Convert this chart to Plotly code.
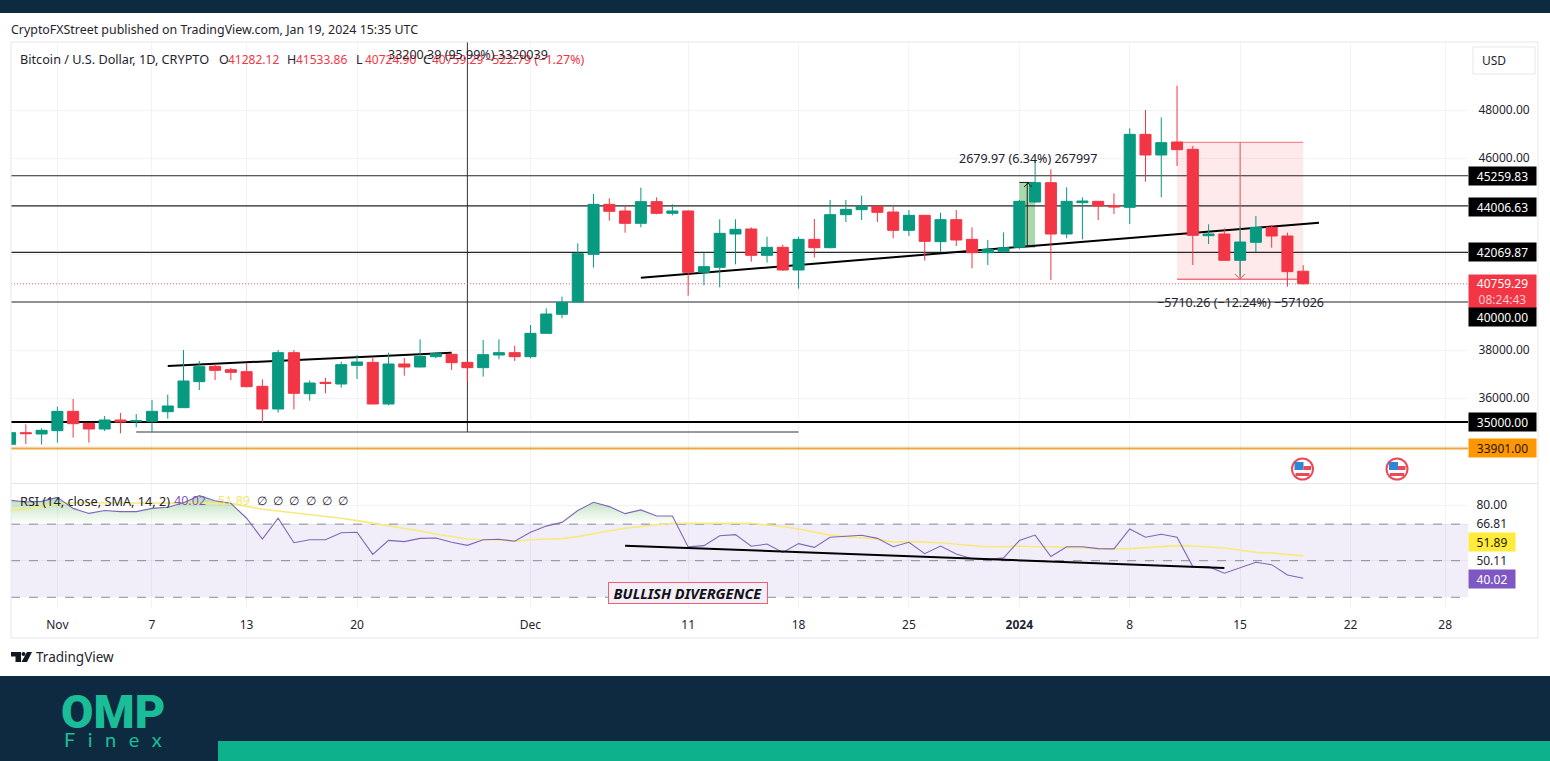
import pandas as pd
import plotly.graph_objects as go

# ---------- data ----------
dates = pd.date_range("2023-10-29", "2024-01-19", freq="D")
opens = [34070,34555,34500,34639,35444,34944,34708,35083,35028,35028,35430,35597,36680,37320,37180,37097,36486,35542,37889,36180,36653,36583,37361,37486,35750,37417,37292,37722,37820,37486,37264,37792,37889,
         37722,38694,39486,40000,41986,44069,43792,43278,44181,43694,43792,41236,41444,42833,43042,41944,42278,41333,42611,42264,43639,43847,43986,43750,42986,43611,42514,43431,42611,42056,42111,
         42278,44167,44972,42833,44139,44194,44014,43944,46986,46125,46667,46361,42764,42833,41736,42486,43111,42750,41282.12]
highs = [34600,34903,34736,35639,35958,34950,35250,35375,35333,35917,36139,38000,37542,37389,37250,37444,36778,38000,38000,36736,36847,37514,37792,37722,37889,37667,38444,37889,37889,37486,38417,38444,38181,
         39042,39736,40222,42444,44500,44319,44000,44764,44361,44069,43833,42056,43444,43444,43111,42722,42389,42722,43458,44250,44250,44431,44000,43972,43833,43625,43722,43833,43111,42583,42903,
         44250,45889,45528,44778,44361,44208,44528,47236,48000,47694,49014,46500,43236,43069,43139,43583,43208,42889,41533.86]
lows = [34000,34083,34056,34139,34347,34139,34625,34528,34778,34583,35139,35597,36333,36750,36750,36444,34986,35389,35528,35889,36194,36430,36792,35750,35694,36930,37278,37653,37167,36680,36889,37611,37542,
        37653,38680,39319,39986,41431,43389,42889,43111,43653,43611,40264,40694,40611,41569,41681,41639,41292,40556,41847,42236,43333,43417,43333,42653,42750,41722,42097,42333,41403,41542,42056,
        42194,44139,40917,42653,42611,43417,43667,43250,45014,44361,45667,41542,42417,41722,41055,42083,42264,40639,40724.90]
closes = [34555,34515,34653,35444,34930,34708,35083,35000,35056,35444,35667,36708,37306,37153,37069,36472,35542,37889,36194,36625,36611,37389,37500,35750,37417,37292,37736,37847,37472,37264,37806,37889,37722,
          38694,39500,39986,42014,44069,43778,43278,44181,43694,43792,41236,41472,42861,43028,41944,42278,41333,42611,42264,43639,43861,43986,43736,42986,43611,42528,43431,42583,42056,42194,42264,
          44194,44972,42833,44194,44208,44000,43958,46986,46125,46639,46347,42778,42833,41736,42500,43111,42750,41264,40759.29]
rsi_vals = [77.7,76.9,77.2,79.0,74.0,71.7,73.0,72.5,72.5,74.0,74.5,76.6,79.8,77.5,76.3,69.5,60.0,69.5,58.3,59.7,59.7,62.9,63.1,53.0,59.4,58.8,60.3,60.5,58.5,57.1,59.7,59.9,59.0,
            63.1,65.9,67.6,73.0,76.8,74.8,71.6,73.3,70.5,70.5,56.4,57.0,61.5,62.0,56.7,57.7,53.9,57.9,56.2,60.8,61.4,61.7,60.3,56.5,58.5,53.3,56.8,53.2,51.0,50.6,51.4,
            59.3,61.8,52.0,56.5,56.5,55.6,55.5,64.6,60.8,62.2,60.8,47.4,47.4,44.4,46.9,49.4,48.3,43.6,42.1]
sma_vals = [72.8,73.7,74.8,76.0,76.6,76.6,76.6,76.6,76.6,76.5,76.3,76.3,76.3,76.3,76.2,74.8,73.6,72.8,72.0,71.1,70.2,69.5,68.4,67.2,66.3,65.0,63.7,62.3,61.1,60.0,59.7,59.6,59.0,
            59.7,60.0,60.2,61.1,62.6,63.8,64.9,65.7,66.6,67.2,67.2,67.2,67.2,67.3,67.2,66.4,65.7,64.6,63.1,61.8,61.1,60.6,60.0,58.6,58.8,58.6,58.3,57.6,57.0,56.5,56.5,
            56.8,56.5,56.5,56.1,56.1,55.5,55.5,55.6,56.1,56.5,57.0,56.8,56.5,55.9,54.85,53.9,53.6,53.0,52.3]

levels = [45259.83, 44006.63, 42069.87, 40000.00]
level_strong = 35000.00
level_orange = 33901.00
last_price = 40759.29
rsi_band = [66.81, 50.11, 33.41]

price_ticks = [34000,36000,38000,40000,42000,44000,46000,48000]
price_tick_text = ["","36000.00","38000.00","","","","46000.00","48000.00"]
rsi_ticks = [75.5, 66.81, 50.11]
rsi_tick_text = ["80.00", "66.81", "50.11"]
time_ticks = ["2023-11-01","2023-11-07","2023-11-13","2023-11-20","2023-12-01","2023-12-11","2023-12-18","2023-12-25","2024-01-01","2024-01-08","2024-01-15","2024-01-22","2024-01-28"]
time_text = ["Nov","7","13","20","Dec","11","18","25","<b>2024</b>","8","15","22","28"]

trend_a = (["2023-11-08","2023-11-26"], [37333, 37889])
trend_b = (["2023-12-08","2024-01-20"], [41012, 43304])
trend_rsi = (["2023-12-07","2024-01-14"], [56.96, 46.78])
range_floor = (["2023-11-06","2023-12-18"], [34583, 34583])
range_marker_date = "2023-11-27"
down_box = (["2024-01-11","2024-01-19"], [46654, 40944], "2024-01-15")
up_box = (["2024-01-01","2024-01-02"], [42302, 44982], "2024-01-01 12:00")

# ---------- colours / helpers ----------
GREEN, RED = "#089981", "#f23645"
NAVY, TEAL = "#0e2a40", "#0db28d"
GRID, BORDER, TXT = "rgba(110,125,165,0.09)", "#e4e7ee", "#1f2430"
FONT = "Noto Sans"
W, H = 1550, 761
px = lambda x: x / W
py = lambda y: 1 - y / H

annotations, shapes = [], []

def txt(x, y, t, size=12, color=TXT, anchor="left", family=FONT, weight=None):
    f = dict(family=family, size=size, color=color)
    if weight:
        f["weight"] = weight
    annotations.append(dict(x=px(x - 2 if anchor == "left" else x), y=py(y), xref="paper", yref="paper", text=t, showarrow=False,
                            xanchor=anchor, yanchor="middle", font=f))

def box_label(x0, x1, yc, h, t, bg, color="white", size=12):
    annotations.append(dict(x=px(x0), y=py(yc), xref="paper", yref="paper", text=t, showarrow=False,
                            xanchor="left", yanchor="middle", width=x1 - x0, height=h, bgcolor=bg, borderpad=0, align="center",
                            font=dict(family=FONT, size=size, color=color)))

def rect_px(x0, y0, x1, y1, fill, line=None, w=1, layer="below"):
    shapes.append(dict(type="rect", xref="paper", yref="paper", x0=px(x0), x1=px(x1), y0=py(y0), y1=py(y1),
                       fillcolor=fill, line=dict(color=line or fill, width=w if line else 0), layer=layer))

def line_px(x0, y0, x1, y1, color, w=1, layer="above"):
    shapes.append(dict(type="line", xref="paper", yref="paper", x0=px(x0), x1=px(x1), y0=py(y0), y1=py(y1),
                       line=dict(color=color, width=w), layer=layer))

def path_px(points, fill=None, line=None, w=1, layer="above"):
    d = "M" + " L".join(f"{px(a):.5f},{py(b):.5f}" for a, b in points)
    if fill:
        d += " Z"
    shapes.append(dict(type="path", xref="paper", yref="paper", path=d, fillcolor=fill or "rgba(0,0,0,0)",
                       line=dict(color=line or "rgba(0,0,0,0)", width=w), layer=layer))

def hline(val, color, w=1, dash="solid", xr="x", yr="y"):
    shapes.append(dict(type="line", xref=xr, yref=yr, x0=X_RANGE[0], x1=X_RANGE[1], y0=val, y1=val,
                       line=dict(color=color, width=w, dash=dash), layer="below"))

def seg(xs, ys, color, w=1, yr="y", xr="x"):
    shapes.append(dict(type="line", xref=xr, yref=yr, x0=xs[0], x1=xs[1], y0=ys[0], y1=ys[1],
                       line=dict(color=color, width=w), layer="below"))

X_RANGE = ["2023-10-29 01:26", "2024-01-29 10:48"]
Y_RANGE = [32458.3, 50833.3]
RSI_RANGE = [28.51, 85.13]

# ---------- page chrome ----------
rect_px(0, 0, W, 13, NAVY)
rect_px(0, 676, W, H, NAVY)
rect_px(218, 741, W, H, TEAL)

# ---------- drawings under the candles ----------
shapes.append(dict(type="rect", xref="x", yref="y", x0=down_box[0][0], x1=down_box[0][1], y0=down_box[1][0], y1=down_box[1][1],
                   fillcolor="rgba(242,54,69,0.11)", line=dict(width=0), layer="below"))
shapes.append(dict(type="rect", xref="x", yref="y", x0=up_box[0][0], x1=up_box[0][1], y0=up_box[1][0], y1=up_box[1][1],
                   fillcolor="rgba(76,175,80,0.48)", line=dict(width=0), layer="below"))
for lv in levels:
    hline(lv, "#262626", 1.2)
hline(level_strong, "#000000", 2)
hline(level_orange, "#eda73a", 2)
hline(last_price, "rgba(242,54,69,0.8)", 1, "1px,2px")
seg(range_floor[0], range_floor[1], "#333333", 1)
shapes.append(dict(type="line", xref="x", yref="paper", x0=range_marker_date, x1=range_marker_date,
                   y0=py(432), y1=py(42), line=dict(color="#333333", width=1), layer="below"))
seg(trend_a[0], trend_a[1], "#000000", 2)
seg(trend_b[0], trend_b[1], "#000000", 2)
seg(down_box[0], [down_box[1][0]] * 2, "#f4707b", 1)
seg(down_box[0], [down_box[1][1]] * 2, "#f4707b", 1.5)
seg([down_box[2]] * 2, down_box[1], "#f2505c", 1)
seg([up_box[2]] * 2, up_box[1], "#1a1a1a", 1)
seg(up_box[0], [up_box[1][1]] * 2, "#1a1a1a", 1)
seg(up_box[0], [up_box[1][0]] * 2, "#1a1a1a", 1)

# RSI band
shapes.append(dict(type="rect", xref="x2", yref="y2", x0=X_RANGE[0], x1=X_RANGE[1], y0=rsi_band[2], y1=rsi_band[0],
                   fillcolor="rgba(126,87,194,0.1)", line=dict(width=0), layer="below"))
for b in rsi_band:
    hline(b, "#8a8d96", 1, "dash", xr="x2", yr="y2")

# arrows
path_px([(1235, 274), (1240, 279), (1245, 274)], line="#f2505c")
path_px([(1024, 187), (1028, 183), (1032, 187)], line="#1a1a1a")

# frame
path_px([(11, 42), (1538, 42), (1538, 638), (11, 638), (11, 42)], line=BORDER)
line_px(11, 483.5, 1538, 483.5, BORDER)
rect_px(1473, 47, 1535, 74, "white", line=BORDER, layer="above")

# ---------- traces ----------
traces = []
# overbought gradient: area between the 66.81 band and the RSI line where the line is above it
top = rsi_band[0]
fx, fy = [], []
for i, (d, v) in enumerate(zip(dates, rsi_vals)):
    if i:
        p = rsi_vals[i - 1]
        if (p - top) * (v - top) < 0:
            t = (top - p) / (v - p)
            fx.append(dates[i - 1] + (d - dates[i - 1]) * t)
            fy.append(top)
    fx.append(d)
    fy.append(max(v, top))
traces.append(go.Scatter(x=fx, y=[top] * len(fx), xaxis="x2", yaxis="y2", mode="lines", line=dict(width=0), hoverinfo="skip"))
traces.append(go.Scatter(x=fx, y=fy, xaxis="x2", yaxis="y2", mode="lines", line=dict(width=0), fill="tonexty", hoverinfo="skip",
                         fillgradient=dict(type="vertical", start=top, stop=max(rsi_vals),
                                           colorscale=[[0, "rgba(76,175,80,0)"], [1, "rgba(76,175,80,0.42)"]])))
traces.append(go.Scatter(x=dates, y=sma_vals, xaxis="x2", yaxis="y2", mode="lines", line=dict(color="#f7e97e", width=1.6), hoverinfo="skip"))
traces.append(go.Scatter(x=dates, y=rsi_vals, xaxis="x2", yaxis="y2", mode="lines", line=dict(color="#7e67b8", width=1.1), hoverinfo="skip"))
traces.append(go.Scatter(x=trend_rsi[0], y=trend_rsi[1], xaxis="x2", yaxis="y2", mode="lines", line=dict(color="#000000", width=2), hoverinfo="skip"))
traces.append(go.Candlestick(x=dates, open=opens, high=highs, low=lows, close=closes, xaxis="x", yaxis="y", whiskerwidth=0,
                             increasing=dict(line=dict(color=GREEN, width=1), fillcolor=GREEN),
                             decreasing=dict(line=dict(color=RED, width=1), fillcolor=RED)))

# ---------- texts ----------
txt(11, 30, "CryptoFXStreet published on TradingView.com, Jan 19, 2024 15:35 UTC", 12.4)
txt(20, 59, "Bitcoin / U.S. Dollar, 1D, CRYPTO", 12.7)
for x, lab, val in [(219, "O", "41282.12"), (287, "H", "41533.86"), (356, "L", "40724.90"), (423, "C", "40759.29")]:
    txt(x, 59, lab, 12.5)
    txt(x + 9, 59, val, 12, RED)
txt(485, 59, "−522.79 (−1.27%)", 12.5, RED)
txt(468, 55, "33200.39 (95.99%) 3320039", 12.5, anchor="center")
txt(1028, 158, "2679.97 (6.34%) 267997", 12.5, anchor="center")
txt(1240, 302, "−5710.26 (−12.24%) −571026", 12.5, anchor="center")
txt(20, 501, "RSI (14, close, SMA, 14, 2)", 12.7)
txt(174, 501, "40.02", 12.5, "#7e57c2")
txt(218, 501, "51.89", 12.5, "#f5e66b")
for x in [262, 278, 294, 311, 327, 343]:
    txt(x, 501, "∅", 12, anchor="center")

# price-scale labels
txt(1482, 60.5, "USD", 12)
for yc, lab in [(176, "45259.83"), (206.5, "44006.63"), (252.5, "42069.87")]:
    box_label(1468, 1535, yc, 18, lab, "#000000")
box_label(1468, 1535, 291, 33, "40759.29<br><span style='color:#ffc9ce'>08:24:43</span>", RED)
box_label(1468, 1535, 317, 18, "40000.00", "#000000")
box_label(1468, 1535, 422, 18, "35000.00", "#000000")
box_label(1468, 1535, 448, 18, "33901.00", "#ff9800", "#1f1300")
box_label(1468, 1514, 542, 18, "51.89", "#ffeb3b", "#1f1a00")
box_label(1468, 1514, 578.5, 18, "40.02", "#7e57c2")

annotations.append(dict(x=px(688), y=py(592.5), xref="paper", yref="paper", text="<b><i>BULLISH DIVERGENCE</i></b>", showarrow=False,
                        xanchor="center", yanchor="middle",
                        width=158, height=20, bgcolor="#f2eefa", bordercolor="#f2606e", borderwidth=1, borderpad=0,
                        font=dict(family=FONT, size=14.5, color="#111111")))

# flags
for cx in [1302.5, 1397]:
    cy = 469
    shapes.append(dict(type="circle", xref="paper", yref="paper", x0=px(cx - 10.5), x1=px(cx + 10.5), y0=py(cy - 10.5), y1=py(cy + 10.5),
                       fillcolor="white", line=dict(color="#ea4a57", width=2), layer="above"))
    rect_px(cx - 8, cy - 7, cx + 1, cy + 1, "#2f86d8", layer="above")
    rect_px(cx + 1, cy - 3, cx + 8.5, cy + 1, "#ea4a57", layer="above")
    rect_px(cx - 7, cy + 4, cx + 7, cy + 7, "#ea4a57", layer="above")

# TradingView mark + footer logo
path_px([(11, 652), (21, 652), (21, 662), (15.5, 662), (15.5, 656.5), (11, 656.5)], fill="#131722", line="#131722", w=0)
path_px([(27, 652), (32, 652), (27, 662), (21.5, 662)], fill="#131722", line="#131722", w=0)
shapes.append(dict(type="circle", xref="paper", yref="paper", x0=px(21.5), x1=px(25.5), y0=py(652), y1=py(656), fillcolor="#131722", line=dict(width=0), layer="above"))
txt(36, 657, "TradingView", 13.5)
txt(113, 711, "OMP", 47, "#1bbd98", anchor="center", family="Roboto", weight=900)
txt(113, 739, "F\u2002\u2009i\u2002\u2009n\u2002\u2009e\u2002\u2009x", 20, "#1bbd98", anchor="center", family="Lato")

# ---------- layout ----------
xcommon = dict(type="date", range=X_RANGE, tickvals=time_ticks, showgrid=True, gridcolor=GRID, gridwidth=1,
               zeroline=False, showline=False, rangeslider=dict(visible=False), domain=[px(11), px(1468)])
fig = go.Figure(traces)
fig.update_layout(
    width=W, height=H, margin=dict(l=0, r=0, t=0, b=0), autosize=False, boxgap=0,
    paper_bgcolor="white", plot_bgcolor="white", showlegend=False,
    font=dict(family=FONT, size=12, color=TXT),
    xaxis=dict(**xcommon, anchor="y", ticktext=[""] * len(time_ticks), ticks=""),
    xaxis2=dict(**xcommon, anchor="y2", matches="x", ticktext=time_text,
                ticks="outside", ticklen=6, tickcolor="rgba(0,0,0,0)", tickfont=dict(size=12, color=TXT)),
    yaxis=dict(domain=[py(483), py(42)], range=Y_RANGE, side="right", anchor="x", tickvals=price_ticks,
               ticktext=price_tick_text, gridcolor=GRID, zeroline=False, showline=False,
               ticks="outside", ticklen=7, tickcolor="rgba(0,0,0,0)", tickfont=dict(size=12, color=TXT)),
    yaxis2=dict(domain=[py(608), py(484)], range=RSI_RANGE, side="right", anchor="x2", tickvals=rsi_ticks, ticktext=rsi_tick_text,
                gridcolor=GRID, zeroline=False, showline=False, ticks="outside", ticklen=5, tickcolor="rgba(0,0,0,0)",
                tickfont=dict(size=12, color=TXT)),
    annotations=annotations, shapes=shapes,
)
fig.write_html("out.html", config=dict(displayModeBar=False),
               post_script="document.body.style.margin='0';document.body.style.overflow='hidden';")
